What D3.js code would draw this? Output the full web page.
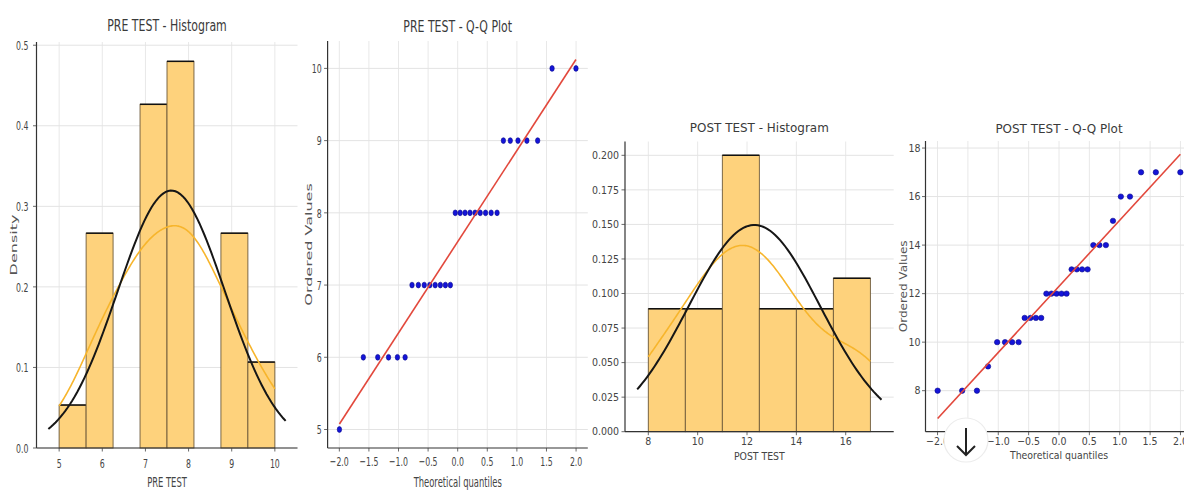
<!DOCTYPE html>
<html><head><meta charset="utf-8">
<script src="https://cdn.jsdelivr.net/npm/d3@7"></script>
<style>
body{margin:0;background:#fff;}
svg{display:block;font-family:"DejaVu Sans",sans-serif;}
</style>
</head><body>
<svg id="chart" width="1184" height="494"></svg>
<script>
// Test scores (score -> number of students), 30 students per test
const preScores = [5, 6, 7, 8, 9, 10];
const preCounts = [1, 5, 8, 9, 5, 2];
const postScores = [8, 9, 10, 11, 12, 13, 14, 15, 16, 17];
const postCounts = [3, 1, 4, 4, 5, 4, 3, 1, 2, 3];
const preBinCount = 8;
const postBinCount = 6;

// Tick values
const preHistXTicks = [5, 6, 7, 8, 9, 10];
const preHistYTicks = [0, 0.1, 0.2, 0.3, 0.4, 0.5];
const preQQYTicks = [5, 6, 7, 8, 9, 10];
const qqXTicks = [-2, -1.5, -1, -0.5, 0, 0.5, 1, 1.5, 2];
const postHistXTicks = [8, 10, 12, 14, 16];
const postHistYTicks = [0, 0.025, 0.05, 0.075, 0.1, 0.125, 0.15, 0.175, 0.2];
const postQQYTicks = [8, 10, 12, 14, 16, 18];

const svg = d3.select("#chart");
const expand = (scores, counts) => scores.flatMap((s, i) => Array(counts[i]).fill(s));
const minus = s => s.replace(/^-/, "\u2212");

// inverse standard normal CDF (Acklam)
function probit(p) {
  const a = [-3.969683028665376e+01, 2.209460984245205e+02, -2.759285104469687e+02, 1.383577518672690e+02, -3.066479806614716e+01, 2.506628277459239e+00];
  const b = [-5.447609879822406e+01, 1.615858368580409e+02, -1.556989798598866e+02, 6.680131188771972e+01, -1.328068155288572e+01];
  const c = [-7.784894002430293e-03, -3.223964580411365e-01, -2.400758277161838e+00, -2.549732539343734e+00, 4.374664141464968e+00, 2.938163982698783e+00];
  const d = [7.784695709041462e-03, 3.224671290700398e-01, 2.445134137142996e+00, 3.754408661907416e+00];
  const pl = 0.02425;
  let q, r;
  if (p < pl) {
    q = Math.sqrt(-2 * Math.log(p));
    return (((((c[0]*q+c[1])*q+c[2])*q+c[3])*q+c[4])*q+c[5]) / ((((d[0]*q+d[1])*q+d[2])*q+d[3])*q+1);
  }
  if (p <= 1 - pl) {
    q = p - 0.5; r = q * q;
    return (((((a[0]*r+a[1])*r+a[2])*r+a[3])*r+a[4])*r+a[5])*q / (((((b[0]*r+b[1])*r+b[2])*r+b[3])*r+b[4])*r+1);
  }
  q = Math.sqrt(-2 * Math.log(1 - p));
  return -(((((c[0]*q+c[1])*q+c[2])*q+c[3])*q+c[4])*q+c[5]) / ((((d[0]*q+d[1])*q+d[2])*q+d[3])*q+1);
}
const normPdf = (x, m, s) => Math.exp(-0.5 * ((x - m) / s) ** 2) / (s * Math.sqrt(2 * Math.PI));
const pad = (lo, hi) => { const r = hi - lo; return [lo - 0.05 * r, hi + 0.05 * r]; };

// text helper: horizontally scaled label
function label(g, x, y, str, o) {
  return g.append("text")
    .attr("transform", `translate(${x},${y}) scale(${o.sx || 1},1)`)
    .attr("text-anchor", o.anchor || "middle")
    .attr("font-size", o.size)
    .attr("fill", o.fill || "#444")
    .text(str);
}
function vlabel(g, x, y, str, o) {
  return g.append("text")
    .attr("transform", `translate(${x},${y}) rotate(-90) scale(1,${o.thick || 1})`)
    .attr("text-anchor", "middle")
    .attr("font-size", o.size)
    .attr("fill", o.fill || "#444")
    .text(str);
}

function frame(box, xs, ys, xt, yt) {
  const g = svg.append("g");
  // grid
  g.append("g").selectAll("line").data(xt).join("line")
    .attr("x1", d => xs(d)).attr("x2", d => xs(d))
    .attr("y1", box.top).attr("y2", box.bottom)
    .attr("stroke", "#e8e8e8").attr("stroke-width", 1);
  g.append("g").selectAll("line").data(yt).join("line")
    .attr("x1", box.left).attr("x2", box.right)
    .attr("y1", d => ys(d)).attr("y2", d => ys(d))
    .attr("stroke", "#e3e3e3").attr("stroke-width", 1);
  return g;
}

function axes(g, box, xs, ys, xt, yt, xf, yf, st, titles) {
  // spines
  g.append("line").attr("x1", box.left).attr("x2", box.left).attr("y1", box.top).attr("y2", box.bottom)
    .attr("stroke", "#333").attr("stroke-width", 1.2);
  g.append("line").attr("x1", box.left).attr("x2", box.right).attr("y1", box.bottom).attr("y2", box.bottom)
    .attr("stroke", "#333").attr("stroke-width", 1.2);
  // ticks
  g.append("g").selectAll("line").data(xt).join("line")
    .attr("x1", d => xs(d)).attr("x2", d => xs(d))
    .attr("y1", box.bottom).attr("y2", box.bottom + 3.5)
    .attr("stroke", "#444").attr("stroke-width", 0.8);
  g.append("g").selectAll("line").data(yt).join("line")
    .attr("x1", box.left - 3.5).attr("x2", box.left)
    .attr("y1", d => ys(d)).attr("y2", d => ys(d))
    .attr("stroke", "#444").attr("stroke-width", 0.8);
  xt.forEach(d => label(g, xs(d), st.xTickY, minus(xf(d)), { size: st.tick, sx: st.tickSx }));
  yt.forEach(d => label(g, box.left - st.yTickGap, ys(d) + st.tick * 0.36, yf(d), { size: st.tick, sx: st.tickSx, anchor: "end" }));
  const cx = (box.left + box.right) / 2;
  label(g, cx, st.titleY, titles.title, { size: st.title, sx: st.titleSx, fill: "#3a3a3a" });
  label(g, cx, st.xLabelY, titles.x, { size: st.label, sx: st.labelSx });
  if (titles.y) {
    const t = vlabel(g, st.yLabelX, (box.top + box.bottom) / 2, titles.y, { size: st.ylabel, thick: st.ylabelThick, fill: "#555" });
    if (st.yClip) t.attr("clip-path", `url(#${st.yClip})`);
  }
}

function histogram(box, scores, counts, nb, xt, yt, yf, st, titles) {
  const data = expand(scores, counts);
  const n = data.length, lo = d3.min(data), hi = d3.max(data);
  const mean = d3.mean(data), sd = d3.deviation(data);
  const w = (hi - lo) / nb;
  const bins = d3.range(nb).map(i => ({ x0: lo + i * w, x1: lo + (i + 1) * w, c: 0 }));
  data.forEach(v => { bins[Math.min(nb - 1, Math.floor((v - lo) / w + 1e-9))].c++; });
  bins.forEach(b => b.d = b.c / (n * w));
  // Gaussian KDE, Scott's rule
  const bw = Math.pow(n, -0.2) * sd;
  const kde = d3.range(200).map(i => {
    const x = lo + (hi - lo) * i / 199;
    return [x, d3.mean(data, v => normPdf(x, v, bw))];
  });
  const [c0, c1] = pad(lo, hi);
  const normal = d3.range(100).map(i => { const x = c0 + (c1 - c0) * i / 99; return [x, normPdf(x, mean, sd)]; });
  const ymax = Math.max(d3.max(bins, b => b.d), d3.max(kde, p => p[1]), d3.max(normal, p => p[1]));
  const xs = d3.scaleLinear().domain(pad(c0, c1)).range([box.left, box.right]);
  const ys = d3.scaleLinear().domain([0, ymax * 1.05]).range([box.bottom, box.top]);
  const g = frame(box, xs, ys, xt, yt);
  const bars = g.append("g").selectAll("g").data(bins.filter(b => b.c > 0)).join("g");
  bars.append("rect")
    .attr("x", b => xs(b.x0)).attr("width", b => xs(b.x1) - xs(b.x0))
    .attr("y", b => ys(b.d)).attr("height", b => ys(0) - ys(b.d))
    .attr("fill", "#fed27c").attr("stroke", "#6e5a3a").attr("stroke-width", 0.9);
  bars.append("line")
    .attr("x1", b => xs(b.x0)).attr("x2", b => xs(b.x1))
    .attr("y1", b => ys(b.d)).attr("y2", b => ys(b.d))
    .attr("stroke", "#111").attr("stroke-width", 1.5);
  const line = d3.line().x(p => xs(p[0])).y(p => ys(p[1]));
  g.append("path").datum(kde).attr("d", line).attr("fill", "none").attr("stroke", "#f7b52c").attr("stroke-width", 1.6);
  g.append("path").datum(normal).attr("d", line).attr("fill", "none").attr("stroke", "#161616").attr("stroke-width", 2);
  axes(g, box, xs, ys, xt, yt, d => String(d), yf, st, titles);
}

function qqplot(box, scores, counts, xt, yt, st, dot, titles) {
  const data = expand(scores, counts).sort(d3.ascending);
  const n = data.length;
  const osr = data.map((_, i) => (i + 1 - 0.3175) / (n + 0.365));
  osr[n - 1] = Math.pow(0.5, 1 / n);
  osr[0] = 1 - osr[n - 1];
  const osm = osr.map(probit);
  const mx = d3.mean(osm), my = d3.mean(data);
  const slope = d3.sum(osm, (x, i) => (x - mx) * (data[i] - my)) / d3.sum(osm, x => (x - mx) ** 2);
  const icpt = my - slope * mx;
  const fit = [osm[0], osm[n - 1]].map(x => [x, icpt + slope * x]);
  const xs = d3.scaleLinear().domain(pad(osm[0], osm[n - 1])).range([box.left, box.right]);
  const ys = d3.scaleLinear()
    .domain(pad(Math.min(data[0], fit[0][1]), Math.max(data[n - 1], fit[1][1])))
    .range([box.bottom, box.top]);
  const g = frame(box, xs, ys, xt, yt);
  g.append("g").selectAll("ellipse").data(osm).join("ellipse")
    .attr("cx", x => xs(x)).attr("cy", (x, i) => ys(data[i]))
    .attr("rx", dot.rx).attr("ry", dot.ry)
    .attr("fill", "#1414d8").attr("stroke", "#0a0a8c").attr("stroke-width", 0.6);
  g.append("path").datum(fit)
    .attr("d", d3.line().x(p => xs(p[0])).y(p => ys(p[1])))
    .attr("stroke", "#e2483c").attr("stroke-width", 1.6).attr("fill", "none");
  axes(g, box, xs, ys, xt, yt, d => d.toFixed(1), d => String(d), st, titles);
}

const preStyle = { tick: 13, tickSx: 0.6, label: 14, labelSx: 0.6, title: 15, titleSx: 0.73,
  ylabel: 16, ylabelThick: 0.55, yTickGap: 8 };
const postStyle = { tick: 10.5, tickSx: 0.9, label: 11, labelSx: 0.85, title: 13, titleSx: 0.92,
  ylabel: 12, ylabelThick: 0.85, yTickGap: 6 };

svg.append("defs").append("clipPath").attr("id", "postYClip")
  .append("rect").attr("x", 591).attr("y", 0).attr("width", 40).attr("height", 494);

histogram({ left: 36.5, right: 297.5, top: 42, bottom: 448 }, preScores, preCounts, preBinCount,
  preHistXTicks, preHistYTicks, d => d.toFixed(1),
  { ...preStyle, titleY: 31, xTickY: 468, xLabelY: 487, yLabelX: 17 },
  { title: "PRE TEST - Histogram", x: "PRE TEST", y: "Density" });

qqplot({ left: 327.6, right: 587.8, top: 41, bottom: 448 }, preScores, preCounts, qqXTicks, preQQYTicks,
  { ...preStyle, titleY: 32, xTickY: 466, xLabelY: 487, yLabelX: 312, yTickGap: 6 },
  { rx: 2.2, ry: 2.9 },
  { title: "PRE TEST - Q-Q Plot", x: "Theoretical quantiles", y: "Ordered Values" });

histogram({ left: 625, right: 893.7, top: 141.5, bottom: 431.7 }, postScores, postCounts, postBinCount,
  postHistXTicks, postHistYTicks, d => d.toFixed(3),
  { ...postStyle, titleY: 132, xTickY: 445, xLabelY: 460, yLabelX: 596, yClip: "postYClip" },
  { title: "POST TEST - Histogram", x: "POST TEST", y: "Density" });

qqplot({ left: 925.5, right: 1192.5, top: 141, bottom: 431.7 }, postScores, postCounts, qqXTicks, postQQYTicks,
  { ...postStyle, titleY: 133, xTickY: 445, xLabelY: 459, yLabelX: 907, yTickGap: 5 },
  { rx: 2.7, ry: 2.7 },
  { title: "POST TEST - Q-Q Plot", x: "Theoretical quantiles", y: "Ordered Values" });

// scroll-down button overlay
const btn = svg.append("g");
btn.append("circle").attr("cx", 966).attr("cy", 440).attr("r", 22)
  .attr("fill", "#fff").attr("stroke", "#ececec").attr("stroke-width", 1.2);
btn.append("path").attr("d", "M966,428 V455 M957,446 L966,455 L975,446")
  .attr("fill", "none").attr("stroke", "#222").attr("stroke-width", 2);
</script>
</body></html>
